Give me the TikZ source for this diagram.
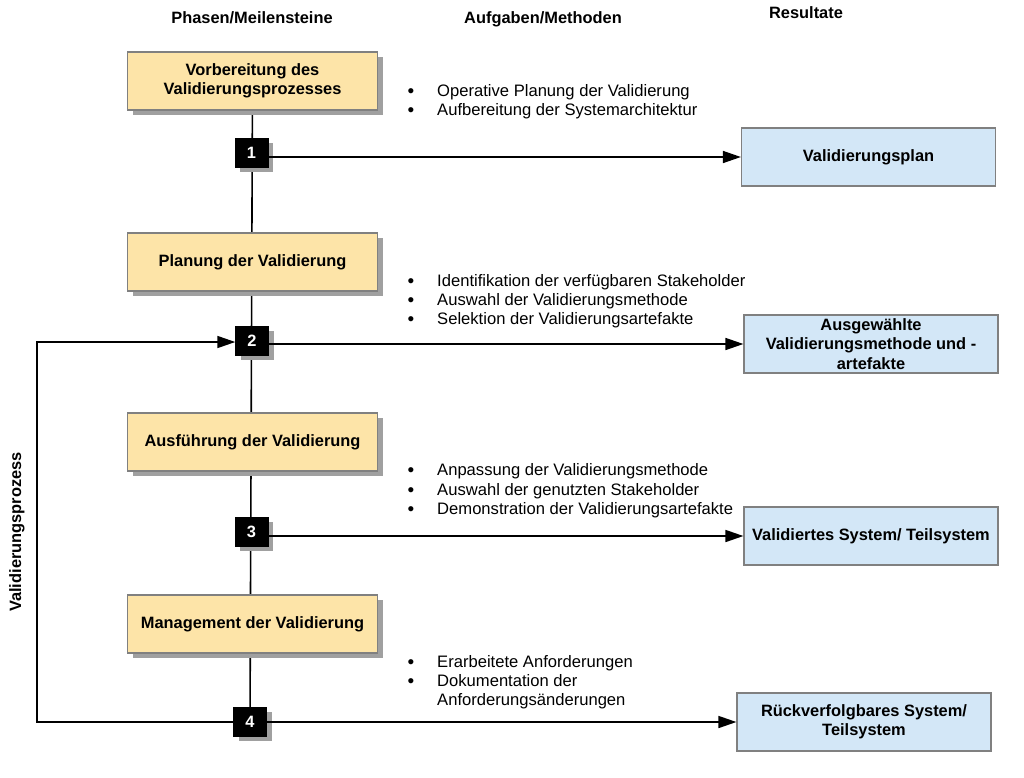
\documentclass[tikz,border=0pt]{standalone}
\usepackage{fontspec}
\setmainfont{Liberation Sans}
\usetikzlibrary{arrows.meta,shadows,backgrounds}
\definecolor{phasefill}{RGB}{253,228,168}
\definecolor{resfill}{RGB}{211,231,247}
\definecolor{boxborder}{RGB}{128,128,128}
\definecolor{shadowgray}{RGB}{160,160,160}
\tikzset{
  phase/.style={draw=boxborder, line width=1.2pt, fill=phasefill,
    minimum width=250pt, minimum height=58pt, align=center, inner sep=2pt,
    font=\fontsize{16.4}{19.3}\selectfont\bfseries,
    drop shadow={shadow xshift=5pt, shadow yshift=-5pt, fill=shadowgray, opacity=1}},
  milestone/.style={fill=black, draw=black, text=white, minimum width=33pt, minimum height=29pt,
    inner sep=0pt, font=\fontsize{16.4}{19.3}\selectfont\bfseries,
    drop shadow={shadow xshift=5pt, shadow yshift=-5pt, fill=shadowgray, opacity=1}},
  result/.style={draw=boxborder, line width=1.2pt, fill=resfill,
    minimum width=254pt, minimum height=58pt, align=center, inner sep=2pt,
    font=\fontsize{16.4}{19.3}\selectfont\bfseries},
  header/.style={anchor=base, inner sep=0pt, font=\fontsize{16.4}{19.3}\selectfont\bfseries},
  item/.style={anchor=base west, inner sep=0pt, font=\fontsize{16.6}{19.3}\selectfont},
  bul/.style={anchor=base, inner sep=0pt, font=\fontsize{19}{19}\selectfont},
  conn/.style={line width=1.6pt, black},
  arr/.style={conn, -{Triangle[length=18pt,width=12pt]}},
}
\begin{document}
\begin{tikzpicture}[x=1pt,y=-1pt]
\useasboundingbox (0,0) rectangle (1024,777);

% headers
\node[header] (h1) at (252,23) {Phasen/Meilensteine};
\node[header] (h2) at (543,23) {Aufgaben/Methoden};
\node[header] (h3) at (806,18) {Resultate};

% phases
\node[phase] (p1) at (252.5,81) {Vorbereitung des\\Validierungsprozesses};
\node[phase] (p2) at (252.5,262) {Planung der Validierung};
\node[phase] (p3) at (252.5,442) {Ausführung der Validierung};
\node[phase] (p4) at (252.5,624) {Management der Validierung};

% milestones
\node[milestone] (m1) at (251.5,152.5) {1};
\node[milestone] (m2) at (252,340.5) {2};
\node[milestone] (m3) at (251.5,531.5) {3};
\node[milestone] (m4) at (250,721.5) {4};

% results
\node[result] (r1) at (868.5,157) {Validierungsplan};
\node[result] (r2) at (871,344) {Ausgewählte\\Validierungsmethode und -\\artefakte};
\node[result] (r3) at (871,536) {Validiertes System/ Teilsystem};
\node[result] (r4) at (864,722) {Rückverfolgbares System/\\Teilsystem};

% side label
\node[rotate=90, inner sep=0pt, font=\fontsize{16.4}{19.3}\selectfont\bfseries] (side) at (17,532) {Validierungsprozess};

% spine
\begin{pgfonlayer}{background}
\draw[conn] (p1.center) -- (m4.center);
\end{pgfonlayer}

% arrows to results
\draw[arr] (m1.east |- r1.west) -- (r1.west);
\draw[arr] (m2.east |- r2.west) -- (r2.west);
\draw[arr] (m3.east |- r3.west) -- (r3.west);
\draw[arr] (m4.east |- r4.west) -- (r4.west);

% feedback loop
\coordinate (lc) at (37,722);
\coordinate (lt) at (37,342);
\draw[arr] (m4.west |- lc) -- (lc) -- (lt) -- (m2.west |- lt);

% task lists
\node[bul] (b11) at (411,97) {\textbullet};
\node[item] (t11) at (437,96) {Operative Planung der Validierung};
\node[bul] (b12) at (411,116) {\textbullet};
\node[item] (t12) at (437,115) {Aufbereitung der Systemarchitektur};

\node[bul] (b21) at (411,287) {\textbullet};
\node[item] (t21) at (437,286) {Identifikation der verfügbaren Stakeholder};
\node[bul] (b22) at (411,306) {\textbullet};
\node[item] (t22) at (437,305) {Auswahl der Validierungsmethode};
\node[bul] (b23) at (411,325) {\textbullet};
\node[item] (t23) at (437,324) {Selektion der Validierungsartefakte};

\node[bul] (b31) at (411,476) {\textbullet};
\node[item] (t31) at (437,475) {Anpassung der Validierungsmethode};
\node[bul] (b32) at (411,496) {\textbullet};
\node[item] (t32) at (437,495) {Auswahl der genutzten Stakeholder};
\node[bul] (b33) at (411,515) {\textbullet};
\node[item] (t33) at (437,514) {Demonstration der Validierungsartefakte};

\node[bul] (b41) at (411,668) {\textbullet};
\node[item] (t41) at (437,667) {Erarbeitete Anforderungen};
\node[bul] (b42) at (411,687) {\textbullet};
\node[item] (t42) at (437,686) {Dokumentation der};
\node[item] (t43) at (437,705) {Anforderungsänderungen};
\end{tikzpicture}
\end{document}
